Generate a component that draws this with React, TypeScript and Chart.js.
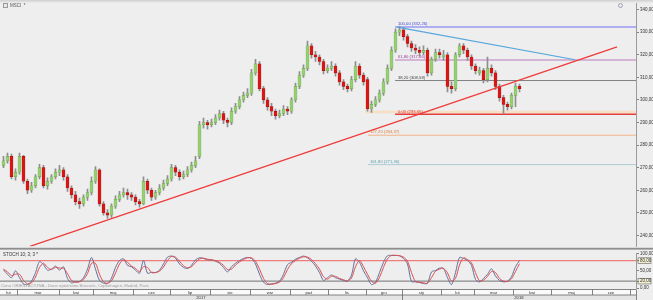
import React, { useEffect, useRef } from "react";
import { Chart, registerables } from "chart.js";

Chart.register(...registerables);

// ---------- DATA ----------
const OPEN = [
  271, 273, 275, 266, 268, 275, 264, 260, 262, 266,
  270, 262, 264, 266, 268, 269, 266, 261, 258, 255,
  254, 257, 259, 264, 269, 254, 250, 249, 253, 256,
  258, 259, 258, 257, 255, 254, 264, 260, 257, 259,
  261, 263, 265, 270, 268, 266, 267, 269, 271, 275,
  289, 290, 289, 290, 292, 294, 291, 290, 295, 297,
  300, 302, 303, 312, 316, 305, 300, 297, 295, 293,
  294, 296, 295, 300, 306, 311, 314, 324, 320, 319,
  317, 313, 314, 315, 312, 308, 306, 305, 309, 315,
  311, 309, 296, 298, 300, 303, 308, 314, 322, 330,
  331, 328, 325, 323, 322, 321, 322, 312, 318, 321,
  319, 320, 306, 305, 320, 324, 322, 319, 315, 312,
  313, 309, 314, 312, 306, 301, 298, 297, 302, 306,
];
const CLOSE = [
  273, 275, 266, 268, 275, 264, 260, 262, 266, 270,
  262, 264, 266, 268, 269, 266, 261, 258, 255, 254,
  257, 259, 264, 269, 254, 250, 249, 253, 256, 258,
  259, 258, 257, 255, 254, 264, 260, 257, 259, 261,
  263, 265, 270, 268, 266, 267, 269, 271, 273, 289,
  290, 289, 290, 292, 294, 291, 290, 295, 297, 300,
  302, 303, 312, 316, 305, 300, 297, 295, 293, 294,
  296, 295, 300, 306, 311, 314, 324, 320, 319, 317,
  313, 314, 315, 312, 308, 306, 305, 309, 315, 311,
  308, 296, 298, 300, 303, 308, 314, 322, 330, 331,
  328, 325, 323, 322, 321, 322, 312, 318, 321, 320,
  320, 306, 305, 320, 324, 322, 319, 315, 313, 313,
  309, 314, 312, 306, 301, 298, 297, 302, 306, 305,
];
const HIGH = [
  275, 276.5, 276, 269.5, 276.5, 275.5, 265, 263.5, 267, 271.5,
  271, 265.5, 267, 269.5, 271, 270, 267, 262, 259.5, 256.5,
  258, 260.5, 266, 270.5, 269.5, 255, 251.5, 254, 257.5, 259.5,
  261, 260.5, 259, 258, 256, 266, 265, 261, 260, 262.5,
  264.5, 266.5, 271.5, 271, 269, 268.5, 270.5, 272.5, 275, 290.5,
  292, 291, 291.5, 293.5, 295.5, 295, 292, 296.5, 298.5, 301.5,
  303.5, 305, 313.5, 318, 317, 306, 301, 298.5, 296, 295.5,
  297.5, 297, 301, 307.5, 312.5, 315.5, 326, 325, 321.5, 320,
  318, 315.5, 317, 316, 313, 309, 307, 310.5, 317, 316,
  312, 310, 299.5, 301.5, 304.5, 309.5, 315.5, 323.5, 331.5, 332.6,
  332, 329, 326, 324.5, 323.5, 324, 323, 319, 322.5, 322.5,
  322, 321, 308, 321, 325, 325, 323, 320, 316, 314.5,
  314, 319, 315.5, 313, 307, 302, 299, 303, 307.5, 307,
];
const LOW = [
  270, 272, 265, 264.5, 267, 263, 258.5, 259, 261, 265,
  261, 260.5, 263, 265, 266.5, 264.5, 259.5, 256.5, 253.5, 252,
  253, 255.5, 258, 263, 253, 249, 247.5, 248, 252, 255,
  257, 256, 255.5, 253.5, 252.5, 253.5, 258.5, 255.5, 256, 258,
  260, 262, 264, 266.5, 264.5, 265, 266, 268, 270, 274,
  287.5, 287, 288, 289, 291, 289.5, 288, 289, 294, 296,
  299, 301, 302, 311, 304, 298.5, 295.5, 293, 291.5, 292,
  293, 293.5, 294, 299, 305, 310, 313, 318.5, 317, 315.5,
  311.5, 312, 313, 310.5, 306.5, 304.5, 303.5, 304, 308, 309.5,
  306.5, 295, 294.5, 297, 299, 302, 307, 313, 321, 328.5,
  326.5, 323.5, 321.5, 320.5, 319.5, 320, 310.5, 311, 317, 318.5,
  317.5, 303.5, 303, 304, 319, 320.5, 317.5, 313.5, 311.5, 311,
  307.5, 308, 310.5, 304.5, 299.5, 294, 295.5, 296, 297, 303.5,
];
const STOCH_K = [
  53, 40, 30, 50, 30, 12, 10, 20, 45, 77,
  68, 52, 55, 64, 52, 62, 28, 15, 18, 19,
  30, 55, 89, 55, 22, 14, 13, 29, 60, 80,
  85, 66, 62, 52, 43, 80, 43, 46, 45, 52,
  70, 90, 93, 87, 70, 60, 57, 66, 82, 88,
  86, 82, 82, 78, 72, 60, 47, 62, 72, 80,
  86, 89, 86, 70, 40, 17, 10, 12, 14, 20,
  40, 68, 75, 84, 89, 93, 88, 78, 64, 45,
  22, 30, 38, 30, 26, 22, 20, 38, 85, 75,
  50, 30, 10, 17, 45, 75, 94, 95, 95, 94,
  86, 70, 19, 18, 16, 13, 14, 47, 51, 58,
  57, 30, 10, 45, 89, 86, 80, 66, 25, 18,
  28, 40, 56, 35, 22, 18, 20, 33, 62, 80,
];
const STOCH_D = [
  55, 47, 36, 40, 40, 22, 12, 15, 32, 60,
  72, 60, 54, 60, 58, 57, 42, 22, 17, 18,
  25, 42, 72, 72, 40, 18, 14, 21, 44, 70,
  82, 75, 64, 57, 48, 62, 60, 45, 45, 49,
  61, 80, 92, 90, 78, 65, 59, 62, 74, 85,
  87, 84, 82, 80, 75, 66, 54, 55, 67, 76,
  83, 88, 88, 78, 55, 28, 13, 11, 13, 17,
  30, 54, 71, 80, 87, 91, 90, 83, 71, 55,
  33, 26, 34, 34, 28, 24, 21, 29, 62, 80,
  62, 40, 20, 14, 31, 60, 85, 95, 95, 94,
  90, 78, 45, 19, 17, 15, 14, 30, 49, 55,
  57, 44, 20, 28, 67, 88, 83, 73, 45, 21,
  23, 34, 48, 45, 28, 20, 19, 27, 48, 71,
];

const PRICE_TICKS = [240, 250, 260, 270, 280, 290, 300, 310, 320, 330, 340];
const STOCH_TICKS = [0, 20, 50, 80, 100];
const STOCH_BOXED = [80, 20];

const MONTH_LABELS = ["lut", "mar", "kwi", "maj", "cze", "lip", "sie", "wrz", "paź", "lis", "gru", "sty", "lut", "mar", "kwi", "maj", "cze"];
// end of each month cell, in candle-index units
const MONTH_ENDS = [3.4, 13.9, 22.4, 32.4, 41.6, 51.6, 61.6, 71.6, 81.1, 90.6, 99.6, 109.4, 117.6, 127.4, 136.9, 147.1, 156.6];
const YEAR_LABELS = ["2017", "2018"];
const YEAR_SPLIT = 99.6;

const FIB_VALUES = [332.26, 317.66, 308.58, 293.65, 284.37, 271.36];
const FIB_LABELS = ["100,00 (332,26)", "61,80 (317,66)", "38,20 (308,58)", "0,00 (293,65)", "127,20 (284,37)", "161,80 (271,36)"];
const FIB_START = [97.9, 97.9, 97.9, 97.9, 91.1, 91.1];
const FIB_LABEL_AT = [98.6, 98.6, 98.6, 98.6, 91.6, 91.6];
const FIB_ZONE = { start: 90.4, value: 294.7 };

const TREND_UP = [{ x: 6.6, y: 235.2 }, { x: 153.4, y: 323.5 }];
const TREND_DOWN = [{ x: 98.4, y: 332.2 }, { x: 142.9, y: 317.8 }];

const TITLE = "MSCI";
const STOCH_TITLE = "STOCH 10; 3; 3 *";
const SOURCE_NOTE = "Cena ORIENTACYJNA - Dane opóźnione Brussels, Copenhagen, Madrid, Paris";

// ---------- STYLE ----------
const X_MIN = -0.875;
const X_MAX = 158.125;
const FONT = "'Liberation Sans', Arial, sans-serif";
const BG = "#eeeeee";
const GREEN = "#95d070";
const GREEN_EDGE = "#6aa24a";
const RED = "#dc1414";
const RED_EDGE = "#a00c0c";
const WICK = "#8e8e8e";
const FIB_COLORS = ["#aeaef0", "#cda2cd", "#808080", "#e33c3c", "#f3b48a", "#b0ccd4"];
const FIB_WIDTHS = [2, 1.5, 1, 1.5, 1, 1];
const FIB_TEXT = ["#4545d8", "#9a3a9a", "#444444", "#e03030", "#e07a3a", "#5c9fae"];

const fmt = (v: number) => Number(v).toFixed(2).replace(".", ",");

const idx = CLOSE.map((_, i) => i);

const axisY = (min: number, max: number, ticks: number[]) => ({
  type: "linear" as const,
  position: "right" as const,
  min,
  max,
  afterBuildTicks: (axis: any) => {
    axis.ticks = ticks.map((v) => ({ value: v }));
  },
  afterFit: (axis: any) => {
    axis.width = 17;
  },
  grid: { drawOnChartArea: false, drawTicks: true, tickLength: 3, color: "#666666", lineWidth: 0.8 },
  border: { display: true, color: "#9a9a9a", width: 1 },
  ticks: {
    font: { size: 4.5, family: FONT },
    color: "#333333",
    padding: 1,
    autoSkip: false,
    callback: (v: any) => fmt(v),
  },
});

const axisX = {
  type: "linear" as const,
  min: X_MIN,
  max: X_MAX,
  display: false,
  offset: false,
};

const bgPlugin = {
  id: "bg",
  beforeDraw(chart: any) {
    const ctx = chart.ctx;
    ctx.save();
    ctx.fillStyle = BG;
    ctx.fillRect(0, 0, chart.width, chart.height);
    ctx.restore();
  },
};

const mainPlugin = {
  id: "mainDecor",
  beforeDraw(chart: any) {
    const ctx = chart.ctx;
    ctx.save();
    const g = ctx.createLinearGradient(0, 0, 0, 3);
    g.addColorStop(0, "#cfcfcf");
    g.addColorStop(1, BG);
    ctx.fillStyle = g;
    ctx.fillRect(0, 0, chart.width, 3);
    ctx.restore();
  },
  afterDatasetsDraw(chart: any) {
    const ctx = chart.ctx;
    const xs = chart.scales.x;
    const ys = chart.scales.y;
    ctx.save();
    ctx.font = `4.2px ${FONT}`;
    ctx.textBaseline = "bottom";
    ctx.textAlign = "left";
    FIB_VALUES.forEach((v, i) => {
      ctx.fillStyle = FIB_TEXT[i];
      ctx.fillText(FIB_LABELS[i], xs.getPixelForValue(FIB_LABEL_AT[i]), ys.getPixelForValue(v) - 0.8);
    });
    // title
    ctx.fillStyle = "#9a9a9a";
    ctx.fillRect(3, 3, 5, 5);
    ctx.fillStyle = "#e8e8e8";
    ctx.fillRect(4, 4, 3, 3);
    ctx.fillStyle = "#555555";
    ctx.font = `4.5px ${FONT}`;
    ctx.fillText(TITLE + "  *", 10, 8);
    // clock icon top right
    ctx.strokeStyle = "#8a8aa8";
    ctx.lineWidth = 0.8;
    ctx.beginPath();
    ctx.arc(620.5, 5.5, 2, 0, Math.PI * 2);
    ctx.stroke();
    // separator
    ctx.fillStyle = "#8e8e8e";
    ctx.fillRect(0, 247.8, chart.width, 1.8);
    ctx.restore();
  },
};

const stochPlugin = {
  id: "stochDecor",
  beforeDraw(chart: any) {
    const ctx = chart.ctx;
    const ys = chart.scales.y;
    const area = chart.chartArea;
    ctx.save();
    STOCH_BOXED.forEach((v) => {
      const y = ys.getPixelForValue(v);
      ctx.fillStyle = "#f3efd0";
      ctx.fillRect(area.right + 2, y - 2.8, 13, 5.6);
      ctx.strokeStyle = "#777777";
      ctx.lineWidth = 0.7;
      ctx.strokeRect(area.right + 2, y - 2.8, 13, 5.6);
    });
    ctx.restore();
  },
  afterDraw(chart: any) {
    const ctx = chart.ctx;
    const xs = chart.scales.x;
    const area = chart.chartArea;
    ctx.save();
    ctx.font = `4.5px ${FONT}`;
    ctx.fillStyle = "#333333";
    ctx.textBaseline = "bottom";
    ctx.textAlign = "left";
    ctx.fillText(STOCH_TITLE, 3, 7.5);
    ctx.fillStyle = "#a0a0a0";
    ctx.font = `4.2px ${FONT}`;
    ctx.fillText(SOURCE_NOTE, 1, 37.5);

    const top = 39.5, mid = 45, bot = 50;
    ctx.fillStyle = "#fafafa";
    ctx.fillRect(0, top, area.right, mid - top);
    ctx.fillStyle = "#e4e4e4";
    ctx.fillRect(0, mid, area.right, bot - mid);
    ctx.strokeStyle = "#666666";
    ctx.lineWidth = 0.8;
    ctx.beginPath();
    ctx.moveTo(0, top); ctx.lineTo(area.right, top);
    ctx.moveTo(0, mid); ctx.lineTo(area.right, mid);
    MONTH_ENDS.forEach((b) => {
      const px = Math.round(xs.getPixelForValue(b)) + 0.5;
      ctx.moveTo(px, top); ctx.lineTo(px, mid);
    });
    const ys2 = Math.round(xs.getPixelForValue(YEAR_SPLIT)) + 0.5;
    ctx.moveTo(ys2, mid); ctx.lineTo(ys2, bot);
    ctx.moveTo(area.right + 0.5, top); ctx.lineTo(area.right + 0.5, bot);
    ctx.stroke();

    ctx.fillStyle = "#333333";
    ctx.font = `4.2px ${FONT}`;
    ctx.textAlign = "center";
    ctx.textBaseline = "middle";
    MONTH_LABELS.forEach((lab, i) => {
      const l = i === 0 ? area.left : xs.getPixelForValue(MONTH_ENDS[i - 1]);
      const r = Math.min(area.right, xs.getPixelForValue(MONTH_ENDS[i]));
      ctx.fillText(lab, (l + r) / 2, (top + mid) / 2 + 0.3);
    });
    const yl = [area.left, xs.getPixelForValue(YEAR_SPLIT), area.right];
    YEAR_LABELS.forEach((lab, i) => {
      ctx.fillText(lab, (yl[i] + yl[i + 1]) / 2, (mid + bot) / 2 + 0.3);
    });
    ctx.restore();
  },
};

const hline = (value: number, start: number, color: string, width: number, order: number) => ({
  type: "line" as const,
  data: [{ x: start, y: value }, { x: X_MAX, y: value }],
  borderColor: color,
  borderWidth: width,
  pointRadius: 0,
  fill: false,
  tension: 0,
  order,
});

export default function App() {
  const mainRef = useRef<HTMLCanvasElement>(null);
  const stochRef = useRef<HTMLCanvasElement>(null);

  useEffect(() => {
    document.body.style.margin = "0";
    const wickData = idx.map((i) => ({ x: i, y: [LOW[i], HIGH[i]] }));
    const bodyData = idx.map((i) => ({ x: i, y: [OPEN[i], CLOSE[i]] }));
    const up = idx.map((i) => CLOSE[i] >= OPEN[i]);
    const bodyColors = up.map((u) => (u ? GREEN : RED));
    const bodyEdges = up.map((u) => (u ? GREEN_EDGE : RED_EDGE));

    const mainChart = new Chart(mainRef.current as HTMLCanvasElement, {
      type: "bar",
      data: {
        datasets: [
          hline(FIB_ZONE.value, FIB_ZONE.start, "#f6dfc2", 2.5, 30),
          ...FIB_VALUES.map((v, i) => hline(v, FIB_START[i], FIB_COLORS[i], FIB_WIDTHS[i], 20 + i)),
          {
            type: "bar",
            data: wickData as any,
            backgroundColor: WICK,
            barThickness: 1,
            grouped: false,
            order: 10,
          },
          {
            type: "bar",
            data: bodyData as any,
            backgroundColor: bodyColors,
            borderColor: bodyEdges,
            borderWidth: 0.5,
            borderSkipped: false,
            barThickness: 3,
            grouped: false,
            order: 9,
          },
          {
            type: "line",
            data: TREND_UP,
            borderColor: "#ef3b3b",
            borderWidth: 1.3,
            pointRadius: 0,
            fill: false,
            order: 1,
          },
          {
            type: "line",
            data: TREND_DOWN,
            borderColor: "#55a6dd",
            borderWidth: 1.2,
            pointRadius: 0,
            fill: false,
            order: 2,
          },
        ] as any,
      },
      options: {
        responsive: false,
        animation: false,
        devicePixelRatio: 1,
        events: [],
        layout: { padding: { left: 0, right: 0, top: 0, bottom: 2 } },
        plugins: { legend: { display: false }, tooltip: { enabled: false } },
        scales: {
          x: axisX,
          y: axisY(235.2, 342.6, PRICE_TICKS),
        } as any,
      },
      plugins: [bgPlugin, mainPlugin],
    });

    const stochChart = new Chart(stochRef.current as HTMLCanvasElement, {
      type: "line",
      data: {
        datasets: [
          hline(80, X_MIN, "#f07c7c", 1.2, 20),
          hline(20, X_MIN, "#8a8a8a", 1.4, 21),
          {
            data: idx.map((i) => ({ x: i, y: STOCH_K[i] })),
            borderColor: "#62709e",
            borderWidth: 1,
            pointRadius: 0,
            fill: false,
            tension: 0.3,
            order: 2,
          },
          {
            data: idx.map((i) => ({ x: i, y: STOCH_D[i] })),
            borderColor: "#e04c4c",
            borderWidth: 1,
            pointRadius: 0,
            fill: false,
            tension: 0.3,
            order: 1,
          },
        ] as any,
      },
      options: {
        responsive: false,
        animation: false,
        devicePixelRatio: 1,
        events: [],
        layout: { padding: { left: 0, right: 0, top: 1, bottom: 12 } },
        plugins: { legend: { display: false }, tooltip: { enabled: false } },
        scales: {
          x: axisX,
          y: axisY(0, 100, STOCH_TICKS),
        } as any,
      },
      plugins: [bgPlugin, stochPlugin],
    });

    return () => {
      mainChart.destroy();
      stochChart.destroy();
    };
  }, []);

  return (
    <div style={{ position: "fixed", left: 0, top: 0, width: 653, height: 300, background: BG, overflow: "hidden" }}>
      <canvas ref={mainRef} width={653} height={250} style={{ position: "absolute", left: 0, top: 0, width: 653, height: 250 }} />
      <canvas ref={stochRef} width={653} height={50} style={{ position: "absolute", left: 0, top: 250, width: 653, height: 50 }} />
    </div>
  );
}
